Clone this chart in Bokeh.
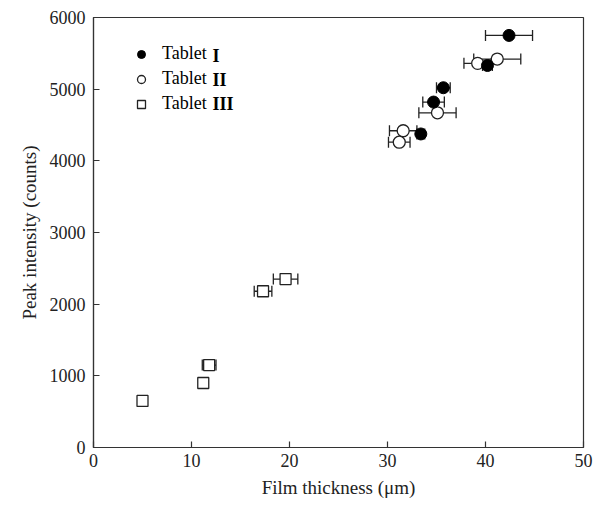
import numpy as np
from bokeh.plotting import figure
from bokeh.models import (ColumnDataSource, Whisker, TeeHead, FixedTicker, Range1d,
                          Legend, LegendItem, Label)
from bokeh.embed import file_html
from bokeh.resources import INLINE

# ---- data ----
t1_x = [42.4, 40.2, 35.7, 34.7, 33.4]
t1_y = [5750, 5330, 5020, 4820, 4375]
t1_err = [2.4, 0.5, 0.7, 1.1, 0.4]

t2_x = [41.2, 39.2, 35.1, 31.6, 31.2]
t2_y = [5420, 5360, 4670, 4420, 4260]
t2_err = [2.4, 1.4, 1.9, 1.4, 1.1]

t3_x = [19.6, 17.3, 11.8, 11.2, 5.0]
t3_y = [2350, 2180, 1150, 900, 650]
t3_err = [1.25, 0.9, 0.7, 0.0, 0.0]

x_ticks = [0, 10, 20, 30, 40, 50]
y_ticks = [0, 1000, 2000, 3000, 4000, 5000, 6000]
series_names = ["Tablet", "Tablet", "Tablet"]
series_numerals = ["I", "II", "III"]

FONT = "Liberation Serif"

p = figure(width=606, height=510, output_backend="svg", toolbar_location=None,
           x_range=Range1d(0, 50), y_range=Range1d(0, 6000),
           min_border_left=93, min_border_right=23, min_border_top=17, min_border_bottom=63)
p.background_fill_color = "white"
p.border_fill_color = "white"
p.outline_line_color = "#333333"
p.outline_line_width = 1.2
p.grid.visible = False

for ax in (p.xaxis[0], p.yaxis[0]):
    ax.major_tick_in = 6
    ax.major_tick_out = 0
    ax.minor_tick_line_color = None
    ax.axis_line_color = "#333333"
    ax.axis_line_width = 1.2
    ax.major_tick_line_color = "#333333"
    ax.major_tick_line_width = 1.2
    ax.major_label_text_font = FONT
    ax.major_label_text_font_size = "18px"
    ax.major_label_text_color = "#222222"
    ax.axis_label_text_font = FONT
    ax.axis_label_text_font_size = "19px"
    ax.axis_label_text_font_style = "normal"
    ax.axis_label_text_color = "#222222"

p.xaxis.ticker = FixedTicker(ticks=x_ticks)
p.yaxis.ticker = FixedTicker(ticks=y_ticks)
p.xaxis.axis_label = "Film thickness (μm)"
p.yaxis.axis_label = "Peak intensity (counts)"
p.xaxis.major_label_standoff = 6
p.yaxis.major_label_standoff = 8
p.xaxis.axis_label_standoff = 7
p.yaxis.axis_label_standoff = 7


def add_err(xs, ys, errs):
    xs = np.array(xs); ys = np.array(ys); errs = np.array(errs)
    m = errs > 0
    src = ColumnDataSource(dict(base=ys[m], lower=xs[m] - errs[m], upper=xs[m] + errs[m]))
    w = Whisker(source=src, base="base", lower="lower", upper="upper", dimension="width",
                line_color="#222222", line_width=1.3,
                lower_head=TeeHead(size=11, line_color="#222222", line_width=1.3),
                upper_head=TeeHead(size=11, line_color="#222222", line_width=1.3))
    p.add_layout(w)


add_err(t3_x, t3_y, t3_err)
add_err(t2_x, t2_y, t2_err)
add_err(t1_x, t1_y, t1_err)

r3 = p.scatter(t3_x, t3_y, marker="square", size=11, fill_color="white",
               line_color="#222222", line_width=1.3)
r2 = p.scatter(t2_x, t2_y, marker="circle", size=12, fill_color="white",
               line_color="#222222", line_width=1.3)
r1 = p.scatter(t1_x, t1_y, marker="circle", size=12, fill_color="black",
               line_color="black", line_width=1)

legend = Legend(items=[LegendItem(label=series_names[0], renderers=[r1]),
                       LegendItem(label=series_names[1], renderers=[r2]),
                       LegendItem(label=series_names[2], renderers=[r3])],
                location=(38, 333), padding=10, spacing=4, glyph_width=20, glyph_height=20,
                label_standoff=11, border_line_color=None, background_fill_alpha=0,
                label_text_font=FONT, label_text_font_size="18px", label_text_color="black",
                margin=0)
p.add_layout(legend, "center")

row_y = [392, 368, 344]
for num, yy in zip(series_numerals, row_y):
    p.add_layout(Label(x=119, y=yy, x_units="screen", y_units="screen", text=num,
                       text_font=FONT, text_font_size="18px", text_font_style="bold",
                       text_color="black", text_baseline="middle", text_align="left"))

open("out.html", "w").write(file_html(p, INLINE))
